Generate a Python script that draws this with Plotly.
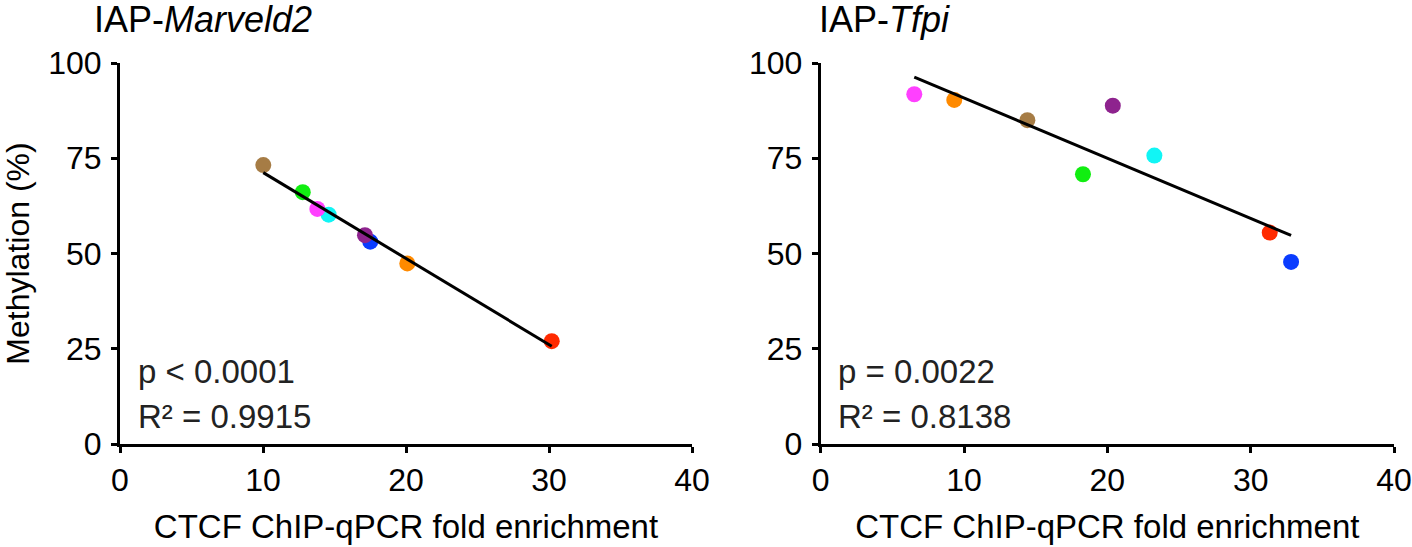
import numpy as np
import plotly.graph_objects as go

# ---------------- data ----------------
point_colors_left = ["#FF2A00", "#FF8A00", "#0A3CFF", "#8E238E", "#11F5F5", "#FF40FF", "#11EE11", "#A67C45"]
marveld2_x = [30.19, 20.09, 17.50, 17.13, 14.59, 13.80, 12.78, 10.02]
marveld2_y = [27.0, 47.4, 53.1, 54.8, 60.2, 61.7, 66.1, 73.2]

point_colors_right = ["#FF40FF", "#FF8A00", "#A67C45", "#8E238E", "#11EE11", "#11F5F5", "#FF2A00", "#0A3CFF"]
tfpi_x = [6.53, 9.32, 14.42, 20.38, 18.30, 23.28, 31.33, 32.82]
tfpi_y = [91.8, 90.3, 85.0, 88.8, 70.8, 75.7, 55.5, 47.8]

titles = ["IAP-<i>Marveld2</i>", "IAP-<i>Tfpi</i>"]
stats_p = ["p < 0.0001", "p = 0.0022"]
stats_r2 = ["R² = 0.9915", "R² = 0.8138"]
x_ticks = [0, 10, 20, 30, 40]
y_ticks = [0, 25, 50, 75, 100]
x_title = "CTCF ChIP-qPCR fold enrichment"
y_title = "Methylation (%)"

FONT = "Liberation Sans, Arial, Helvetica, sans-serif"

fig = go.Figure()

panels = [
    (marveld2_x, marveld2_y, point_colors_left, "x", "y"),
    (tfpi_x, tfpi_y, point_colors_right, "x2", "y2"),
]
for xs, ys, cols, xa, ya in panels:
    fig.add_trace(go.Scatter(
        x=xs, y=ys, mode="markers", xaxis=xa, yaxis=ya,
        marker=dict(size=16, color=cols, line=dict(width=0)),
        showlegend=False, hoverinfo="x+y", cliponaxis=False))
    slope, intercept = np.polyfit(xs, ys, 1)
    lx = np.array([min(xs), max(xs)])
    fig.add_trace(go.Scatter(
        x=lx, y=slope * lx + intercept, mode="lines", xaxis=xa, yaxis=ya,
        line=dict(color="black", width=3), showlegend=False, hoverinfo="skip"))

axis_common = dict(
    showline=True, linecolor="black", linewidth=3, mirror=False,
    ticks="outside", ticklen=6, tickwidth=2.5, tickcolor="black",
    showgrid=False, zeroline=False,
    tickfont=dict(family=FONT, size=32, color="black"),
)

W, H = 1412, 547
ML, MR = 120, W - 1394
MT, MB = 63, H - 444
PW = W - ML - MR
PH = H - MT - MB

fig.update_layout(
    width=W, height=H,
    margin=dict(l=ML, r=MR, t=MT, b=MB),
    paper_bgcolor="white", plot_bgcolor="white",
    font=dict(family=FONT, color="black"),
    xaxis=dict(domain=[0, (692 - 120) / PW], range=[0, 40], tickvals=x_ticks,
               title=dict(text=x_title, font=dict(family=FONT, size=33), standoff=18),
               automargin=False, anchor="y", **axis_common),
    yaxis=dict(domain=[0, 1], range=[0, 100], tickvals=y_ticks,
               title=dict(text=y_title, font=dict(family=FONT, size=32), standoff=26),
               automargin=False, anchor="x", ticklabelstandoff=3, **axis_common),
    xaxis2=dict(domain=[(820.7 - 120) / PW, 1], range=[0, 40], tickvals=x_ticks,
                title=dict(text=x_title, font=dict(family=FONT, size=33), standoff=18),
                automargin=False, anchor="y2", **axis_common),
    yaxis2=dict(domain=[0, 1], range=[0, 100], tickvals=y_ticks,
                automargin=False, anchor="x2", ticklabelstandoff=3, **axis_common),
)

annotations = []
title_x_px = [92, 817]
for i, (xa, ya) in enumerate([("x", "y"), ("x2", "y2")]):
    annotations.append(dict(
        text=titles[i], xref="paper", yref="paper",
        x=(title_x_px[i] - ML) / PW, y=(444 - 20) / PH,
        xanchor="left", yanchor="middle", showarrow=False,
        font=dict(family=FONT, size=36, color="black")))
    annotations.append(dict(
        text=stats_p[i], xref=xa, yref=ya, x=1.1, y=18.9,
        xanchor="left", yanchor="middle", showarrow=False,
        font=dict(family=FONT, size=33, color="#222222")))
    annotations.append(dict(
        text=stats_r2[i], xref=xa, yref=ya, x=1.1, y=7.35,
        xanchor="left", yanchor="middle", showarrow=False,
        font=dict(family=FONT, size=33, color="#222222")))
fig.update_layout(annotations=annotations)

fig.write_html(
    "out.html",
    config={"displayModeBar": False},
    post_script="document.body.style.margin='0px';document.body.style.overflow='hidden';",
)
